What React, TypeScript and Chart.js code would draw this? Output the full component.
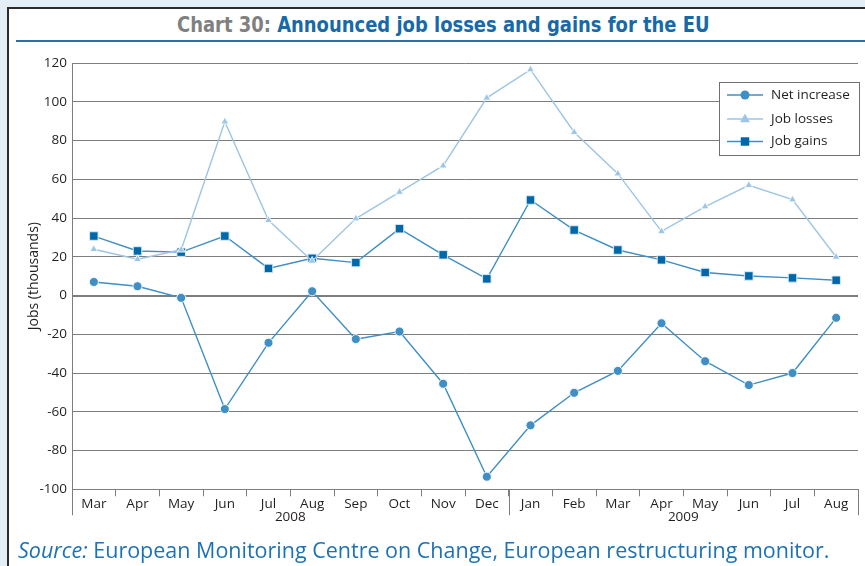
import React, { useEffect, useRef } from "react";
import { Chart, registerables } from "chart.js";

Chart.register(...registerables);

const months = ["Mar", "Apr", "May", "Jun", "Jul", "Aug", "Sep", "Oct", "Nov", "Dec", "Jan", "Feb", "Mar", "Apr", "May", "Jun", "Jul", "Aug"];
const yearLabels = ["2008", "2009"];
const yearStartIndex = [0, 10];
const netIncrease = [7, 4.8, -1.2, -58.6, -24.4, 2.2, -22.5, -18.6, -45.5, -93.5, -67, -50.2, -38.9, -14.3, -33.9, -46.2, -40, -11.5];
const jobLosses = [23.9, 18.7, 23.6, 89.7, 38.8, 17.8, 39.7, 53.4, 67, 102, 116.6, 84.3, 62.9, 33.1, 45.9, 56.9, 49.5, 19.9];
const jobGains = [30.7, 23, 22.4, 30.7, 14, 19.2, 17, 34.5, 21, 8.6, 49.3, 33.8, 23.5, 18.4, 11.9, 10.1, 9.1, 7.9];
const seriesNames = ["Net increase", "Job losses", "Job gains"];

const TEXT = "#231f20";
const GRID = "#7d7d7d";

function drawMarker(ctx: CanvasRenderingContext2D, style: string, x: number, y: number, r: number) {
  ctx.beginPath();
  if (style === "circle") {
    ctx.arc(x, y, r, 0, Math.PI * 2);
  } else if (style === "rect") {
    const s = Math.SQRT1_2 * r;
    ctx.rect(x - s, y - s, 2 * s, 2 * s);
  } else {
    const s = r * 1.2;
    ctx.moveTo(x, y - s);
    ctx.lineTo(x + s * 0.9, y + s * 0.6);
    ctx.lineTo(x - s * 0.9, y + s * 0.6);
    ctx.closePath();
  }
  ctx.fill();
}

const extrasPlugin = {
  id: "extras",
  afterDraw(chart: any) {
    const ctx = chart.ctx;
    const xs = chart.scales.x;
    const area = chart.chartArea;
    ctx.save();
    const bounds = [area.left, (xs.getPixelForTick(9) + xs.getPixelForTick(10)) / 2, area.right];
    ctx.strokeStyle = GRID;
    ctx.lineWidth = 1;
    bounds.forEach((bx) => {
      const px = Math.round(bx) + 0.5;
      ctx.beginPath();
      ctx.moveTo(px, area.bottom);
      ctx.lineTo(px, area.bottom + 26);
      ctx.stroke();
    });
    ctx.fillStyle = TEXT;
    ctx.font = "13.5px 'Open Sans'";
    ctx.textAlign = "center";
    ctx.textBaseline = "middle";
    yearLabels.forEach((lab, i) => {
      const s = yearStartIndex[i];
      const e = i + 1 < yearStartIndex.length ? yearStartIndex[i + 1] - 1 : months.length - 1;
      const cx = (xs.getPixelForTick(s) + xs.getPixelForTick(e)) / 2;
      ctx.fillText(lab, cx, area.bottom + 28);
    });
    const lx = 719.5, ly = 82.5, lw = 140, lh = 73;
    ctx.fillStyle = "#ffffff";
    ctx.fillRect(lx, ly, lw, lh);
    ctx.strokeStyle = "#6f6f6f";
    ctx.strokeRect(lx, ly, lw, lh);
    const rows = [95, 119, 141.5];
    chart.data.datasets.forEach((ds: any, i: number) => {
      const y = rows[i];
      ctx.strokeStyle = ds.borderColor;
      ctx.lineWidth = 1.5;
      ctx.beginPath();
      ctx.moveTo(727, y);
      ctx.lineTo(763, y);
      ctx.stroke();
      ctx.fillStyle = ds.pointBackgroundColor;
      drawMarker(ctx, ds.pointStyle, 745, y, ds.pointRadius);
      ctx.fillStyle = TEXT;
      ctx.font = "13.5px 'Open Sans'";
      ctx.textAlign = "left";
      ctx.textBaseline = "middle";
      ctx.fillText(ds.label, 771, y);
    });
    ctx.restore();
  },
};

export default function App() {
  const ref = useRef<HTMLCanvasElement | null>(null);
  useEffect(() => {
    if (!ref.current) return;
    Chart.defaults.font.family = "'Open Sans', sans-serif";
    const chart = new Chart(ref.current, {
      type: "line",
      data: {
        labels: months,
        datasets: [
          {
            label: seriesNames[0],
            data: netIncrease,
            borderColor: "#3f8fc5",
            backgroundColor: "#3f8fc5",
            pointBackgroundColor: "#3f8fc5",
            pointBorderColor: "rgba(255,255,255,0.85)",
            pointBorderWidth: 1,
            pointStyle: "circle",
            pointRadius: 4.5,
            borderWidth: 1.4,
            tension: 0,
          },
          {
            label: seriesNames[1],
            data: jobLosses,
            borderColor: "#9dc6e4",
            backgroundColor: "#9dc6e4",
            pointBackgroundColor: "#9dc6e4",
            pointBorderColor: "rgba(255,255,255,0.85)",
            pointBorderWidth: 1,
            pointStyle: "triangle",
            pointRadius: 4.5,
            borderWidth: 1.4,
            tension: 0,
          },
          {
            label: seriesNames[2],
            data: jobGains,
            borderColor: "#3f8fc5",
            backgroundColor: "#0067a9",
            pointBackgroundColor: "#0067a9",
            pointBorderColor: "rgba(220,235,248,0.95)",
            pointBorderWidth: 1,
            pointStyle: "rect",
            pointRadius: 6,
            borderWidth: 1.4,
            tension: 0,
          },
        ],
      },
      options: {
        animation: false,
        responsive: false,
        maintainAspectRatio: false,
        layout: { padding: { left: 0, right: 6, top: 63, bottom: 36.7 } },
        plugins: { legend: { display: false }, tooltip: { enabled: false }, title: { display: false } },
        scales: {
          x: {
            offset: true,
            grid: { display: true, drawOnChartArea: false, drawTicks: true, tickLength: 7, offset: true, color: GRID },
            border: { display: false },
            ticks: { color: TEXT, font: { size: 13.5 }, padding: 0, maxRotation: 0, autoSkip: false },
            afterFit: (s: any) => { s.height = 40; },
          },
          y: {
            min: -100,
            max: 120,
            ticks: { stepSize: 20, color: TEXT, font: { size: 13.5 }, padding: 5 },
            grid: {
              drawTicks: false,
              color: GRID,
              lineWidth: (c: any) => (c.tick && c.tick.value === 0 ? 2 : 1),
            },
            border: { display: true, color: GRID, width: 1 },
            title: { display: true, text: "Jobs (thousands)", color: TEXT, font: { size: 14 }, padding: { top: 26, bottom: 0 } },
            afterFit: (s: any) => { s.width = 72; },
          },
        },
      },
      plugins: [extrasPlugin],
    });
    return () => chart.destroy();
  }, []);

  return (
    <div style={{ position: "fixed", left: 0, top: 0, width: 865, height: 566, background: "#e4eef6", overflow: "hidden" }}>
      <div style={{ position: "absolute", left: 7, top: 7, width: 880, height: 580, background: "#ffffff", borderLeft: "2px solid #2b2b2b", borderTop: "2px solid #2b2b2b" }} />
      <div style={{ position: "absolute", left: 16, top: 40, width: 860, height: 2, background: "#2a6fa9" }} />
      <div style={{ position: "absolute", left: 22, top: 11, width: 843, textAlign: "center", whiteSpace: "nowrap" }}>
        <span style={{ display: "inline-block", transform: "scaleX(0.95)", fontFamily: "'DejaVu Sans', sans-serif", fontStretch: "condensed", fontWeight: "bold", fontSize: 21, lineHeight: "28px" }}>
          <span style={{ color: "#808080" }}>Chart 30: </span>
          <span style={{ color: "#1769a8" }}>Announced job losses and gains for the EU</span>
        </span>
      </div>
      <canvas ref={ref} width={865} height={566} style={{ position: "absolute", left: 0, top: 0, width: 865, height: 566 }} />
      <div style={{ position: "absolute", left: 18, top: 536, fontFamily: "'Open Sans', sans-serif", fontSize: 21.5, lineHeight: "28px", color: "#1d72b5", whiteSpace: "nowrap" }}>
        <i>Source:</i> European Monitoring Centre on Change, European restructuring monitor.
      </div>
    </div>
  );
}
